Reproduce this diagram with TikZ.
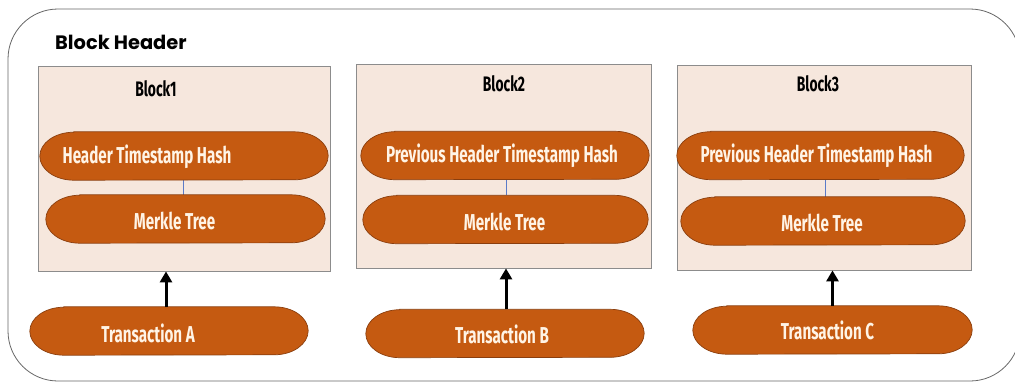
\documentclass[tikz,border=0pt]{standalone}
\usepackage{fontspec}
\setmainfont{Fira Sans}
\newfontfamily\titlefont{Poppins}
\newfontfamily\condfont[FakeStretch=0.66]{Fira Sans}
\usetikzlibrary{arrows.meta}
\definecolor{blockfill}{HTML}{F6E7DD}
\definecolor{blockline}{HTML}{8C8C8C}
\definecolor{pillfill}{HTML}{C55A11}
\definecolor{pillline}{HTML}{8A3E0E}
\definecolor{pilltext}{HTML}{FFF4E6}
\definecolor{linkblue}{HTML}{5B7BC8}
\definecolor{frameline}{HTML}{666666}
\tikzset{
  x=1pt, y=-1pt,
  frame/.style={draw=frameline, line width=0.8pt, rounded corners=50pt, inner sep=0pt},
  blockbox/.style={draw=blockline, fill=blockfill, line width=0.8pt, inner sep=0pt},
  pillholder/.style={inner sep=0pt, draw=none},
  pillshape/.style={fill=pillfill, draw=pillline, line width=0.7pt},
  pilllabel/.style={text=pilltext, font=\condfont\bfseries\fontsize{23}{25}\selectfont, inner sep=0pt},
  blocktitle/.style={text=black, font=\condfont\bfseries\fontsize{21}{23}\selectfont, inner sep=0pt},
  headtitle/.style={text=black, font=\titlefont\bfseries\fontsize{19.4}{22}\selectfont, inner sep=0pt, anchor=west},
  link/.style={draw=linkblue, line width=0.6pt},
  feed/.style={draw=black, line width=3pt, -{Triangle[width=12pt,length=11pt]}},
}
\newcommand\pillpath[1]{%
  \filldraw[pillshape] ([xshift=34pt]#1.north west) -- ([xshift=-34pt]#1.north east)
    arc[start angle=90, end angle=-90, x radius=34pt, y radius=24pt]
    -- ([xshift=34pt]#1.south west)
    arc[start angle=270, end angle=90, x radius=34pt, y radius=24pt] -- cycle;}
\begin{document}
\begin{tikzpicture}
\useasboundingbox (0,0) rectangle (1015,384);
\node[frame, minimum width=1012pt, minimum height=372pt] (outer) at (514,195) {};
\node[headtitle] (hdr) at (55,42) {Block Header};

% blocks
\node[blockbox, minimum width=292pt, minimum height=205pt] (b1) at (184,168.5) {};
\node[blockbox, minimum width=295pt, minimum height=204pt] (b2) at (503.5,166) {};
\node[blockbox, minimum width=294pt, minimum height=205pt] (b3) at (824,167.5) {};

\node[blocktitle] (bt1) at (156,89) {Block1};
\node[blocktitle] (bt2) at (504,84) {Block2};
\node[blocktitle] (bt3) at (818,84) {Block3};

% pill holders
\node[pillholder, minimum width=288pt, minimum height=48pt] (h1) at (184,156) {};
\node[pillholder, minimum width=279pt, minimum height=48pt] (m1) at (185.5,219) {};
\node[pillholder, minimum width=278pt, minimum height=48pt] (t1) at (169,331) {};
\node[pillholder, minimum width=288pt, minimum height=48pt] (h2) at (505,155.5) {};
\node[pillholder, minimum width=285pt, minimum height=48pt] (m2) at (505.5,219.5) {};
\node[pillholder, minimum width=278pt, minimum height=48pt] (t2) at (505,333.5) {};
\node[pillholder, minimum width=287pt, minimum height=48pt] (h3) at (820.5,155.5) {};
\node[pillholder, minimum width=284pt, minimum height=48pt] (m3) at (823,221) {};
\node[pillholder, minimum width=279pt, minimum height=48pt] (t3) at (832.5,330) {};

% connectors inside blocks
\draw[link] ([xshift=-1pt]h1.south) -- ([xshift=-1pt]h1.south |- m1.north);
\draw[link] ([xshift=1pt]h2.south) -- ([xshift=1pt]h2.south |- m2.north);
\draw[link] ([xshift=5pt]h3.south) -- ([xshift=5pt]h3.south |- m3.north);

\pillpath{h1}\pillpath{m1}\pillpath{t1}
\pillpath{h2}\pillpath{m2}\pillpath{t2}
\pillpath{h3}\pillpath{m3}\pillpath{t3}

% pill texts
\node[pilllabel] (h1t) at ([xshift=-37pt,yshift=-1pt]h1.center) {Header Timestamp Hash};
\node[pilllabel] (m1t) at ([xshift=-11pt,yshift=-2pt]m1.center) {Merkle Tree};
\node[pilllabel] (t1t) at ([xshift=-21pt,yshift=-2pt]t1.center) {Transaction A};
\node[pilllabel] (h2t) at ([xshift=-3pt]h2.center) {Previous Header Timestamp Hash};
\node[pilllabel] (m2t) at ([xshift=-1pt,yshift=-2pt]m2.center) {Merkle Tree};
\node[pilllabel] (t2t) at ([xshift=-3pt,yshift=-1pt]t2.center) {Transaction B};
\node[pilllabel] (h3t) at ([xshift=-4pt]h3.center) {Previous Header Timestamp Hash};
\node[pilllabel] (m3t) at ([xshift=-1pt,yshift=-2pt]m3.center) {Merkle Tree};
\node[pilllabel] (t3t) at ([xshift=-5pt]t3.center) {Transaction C};

% feed arrows
\draw[feed] ([xshift=-3pt]t1.north) -- ([xshift=-3pt]t1.north |- b1.south);
\draw[feed] ([xshift=1pt]t2.north) -- ([xshift=1pt]t2.north |- b2.south);
\draw[feed] (t3.north) -- (t3.north |- b3.south);
\end{tikzpicture}
\end{document}
